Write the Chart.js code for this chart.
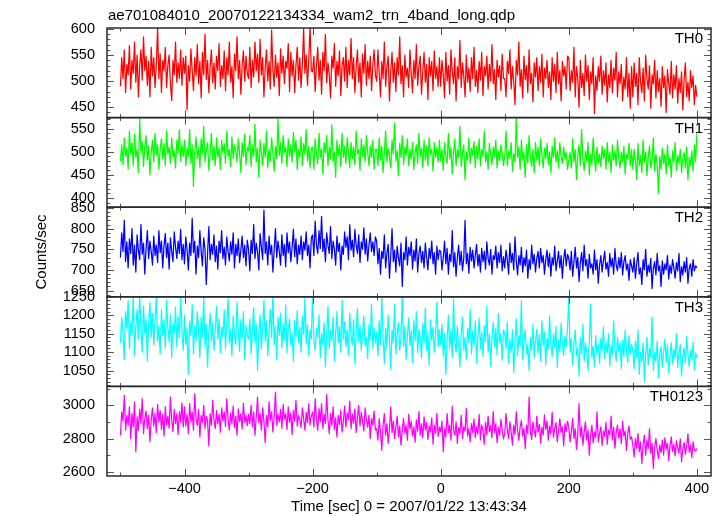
<!DOCTYPE html>
<html><head><meta charset="utf-8">
<script src="https://cdn.jsdelivr.net/npm/chart.js@4.4.1/dist/chart.umd.min.js"></script>
<style>html,body{margin:0;padding:0;background:#fff}canvas{display:block}</style>
</head><body>
<canvas id="c" width="723" height="516"></canvas>
<script>
const TITLE = 'ae701084010_20070122134334_wam2_trn_4band_long.qdp';
const X_LABEL = 'Time [sec] 0 = 2007/01/22 13:43:34';
const Y_LABEL = 'Counts/sec';
const BANDS = ['TH0', 'TH1', 'TH2', 'TH3', 'TH0123'];
const T_START = -500, T_BIN = 2;
const X_TICKS = [-400, -200, 0, 200, 400];

const TH0 = [
490,545,505,560,478,532,512,568,485,540, 515,575,498,550,470,528,560,502,585,520,
548,492,538,470,565,510,545,488,532,603, 505,552,478,540,520,565,488,530,550,495,
463,540,512,575,498,535,505,560,492,545,
515,548,445,530,500,562,520,482,545,510, 570,495,538,468,555,512,590,503,540,478,
528,560,497,535,485,548,520,572,490,530, 505,558,482,545,512,575,498,528,468,552,
520,585,505,540,475,530,558,500,548,515,
505,565,488,540,508,575,520,552,498,580, 512,545,470,525,560,500,538,485,598,522,
490,550,507,535,472,562,515,548,495,538, 525,572,480,555,510,540,478,530,565,502,
545,488,532,600,515,550,492,540,605,520,
518,548,480,530,565,502,540,475,555,520, 590,497,535,512,468,548,525,572,490,538,
510,558,472,530,545,500,565,488,540,512, 582,505,545,478,528,560,498,535,470,552,
515,570,492,538,505,548,482,530,560,512,
500,560,515,470,538,505,575,490,528,548, 462,520,555,498,535,480,545,512,585,495,
530,470,550,508,525,488,560,515,478,540, 505,570,492,528,548,475,518,555,498,532,
465,545,510,538,482,558,505,528,490,545,
490,540,512,468,555,500,530,475,560,518, 495,545,462,528,505,578,488,535,510,470,
550,498,525,480,545,505,565,490,520,478, 538,502,555,472,528,510,548,485,532,500,
570,495,522,465,540,508,530,482,552,505,
505,470,538,515,560,485,528,500,455,540, 512,575,490,522,468,548,503,530,478,560,
495,515,460,535,508,545,482,528,498,552, 470,525,505,540,488,518,465,545,500,532,
478,555,495,520,462,538,510,528,485,548,
545,482,520,498,565,470,528,505,450,540, 488,515,472,550,500,530,465,518,495,545,
438,510,482,528,500,548,475,520,492,535, 460,512,488,540,478,525,502,555,470,518,
495,532,462,508,485,545,470,515,448,528,
470,535,490,515,455,545,498,478,525,462, 550,505,485,530,448,512,495,540,468,520,
480,505,452,528,488,510,440,522,495,475, 538,468,512,485,530,458,505,478,518,445,
502,535,470,498,462,520,488,510,455,492,
470];
const TH1 = [
480,515,472,530,490,508,462,545,495,520, 470,538,488,505,455,572,498,522,468,512,
535,482,512,450,498,525,478,540,492,515, 462,505,528,485,518,470,545,495,510,475,
530,488,502,465,525,498,548,480,515,490,
525,470,508,490,548,475,515,425,500,532, 485,510,465,528,495,555,478,505,520,460,
495,540,482,512,470,530,488,508,462,525, 498,518,475,545,490,505,468,532,485,515,
502,478,528,495,455,520,490,538,472,510,
502,535,468,515,490,560,478,508,445,525, 498,470,518,488,545,465,505,480,530,495,
458,512,485,570,492,520,475,535,498,510, 468,528,490,515,478,542,500,525,462,505,
488,532,470,518,495,548,480,512,465,508,
510,462,528,495,475,540,488,505,452,520, 498,535,470,510,485,558,478,500,445,525,
492,515,468,540,488,512,475,530,498,465, 520,485,510,472,545,495,505,460,528,490,
515,478,535,498,470,512,488,525,462,505,
505,470,530,482,512,455,498,545,478,508, 490,465,525,495,562,480,502,448,518,488,
535,472,510,492,528,470,505,485,520,462, 498,515,475,540,490,508,465,525,482,512,
470,530,495,505,458,520,488,510,478,525,
480,505,460,520,490,475,540,485,510,452, 498,528,470,505,488,555,468,495,515,440,
500,482,530,475,508,492,522,465,512,485, 528,470,505,490,545,478,500,462,518,495,
472,510,488,525,465,502,480,515,495,470,
490,545,470,502,485,520,458,495,478,575, 488,510,462,525,482,498,445,515,475,535,
490,468,505,455,520,482,510,470,528,492, 465,508,485,518,472,500,455,512,488,530,
478,502,465,520,490,475,510,485,498,462,
482,498,465,528,478,505,440,492,515,470, 548,485,460,502,478,520,450,495,472,530,
488,458,510,475,495,468,512,485,505,462, 520,478,498,455,515,482,502,470,525,488,
465,500,478,512,452,495,485,518,470,505,
462,505,480,440,518,470,492,455,525,478, 500,448,488,512,465,482,530,458,495,472,
410,490,462,508,475,495,452,515,470,488, 445,502,478,520,460,492,475,505,455,485,
498,465,510,440,488,470,502,458,515,478,
540];
const TH2 = [
730,790,745,820,720,768,705,775,740,800, 712,760,695,785,748,725,810,738,765,690,
752,795,728,770,745,712,782,735,760,718, 795,742,770,705,758,788,730,765,702,778,
745,720,792,755,728,770,740,798,725,762,
715,780,748,700,765,735,825,742,770,690, 758,730,795,745,710,778,752,665,740,805,
725,762,738,785,720,758,702,770,742,795, 728,755,712,780,745,722,768,738,790,705,
762,735,775,718,748,782,730,760,710,772,
750,698,772,740,810,728,765,745,700,788, 755,725,845,740,768,712,782,738,760,695,
748,800,730,770,745,712,785,735,762,708, 790,742,768,720,755,798,732,775,715,760,
738,782,725,768,748,792,735,760,705,778,
785,735,818,760,740,795,752,830,745,775, 720,790,760,740,805,728,770,750,712,782,
745,765,700,758,738,792,755,780,725,810, 748,772,732,798,760,740,785,718,768,750,
802,738,775,722,760,790,745,768,735,780,
770,715,752,690,745,728,785,705,740,762, 680,735,800,720,748,695,758,730,710,765,
660,742,725,780,712,755,735,768,702,748, 722,775,695,740,758,718,745,705,765,730,
700,752,728,770,715,742,690,758,725,748,
745,700,730,770,715,752,690,738,720,795, 708,742,685,730,760,712,745,698,728,820,
715,740,692,755,722,748,705,735,762,710, 738,695,752,720,745,702,768,728,712,750,
690,735,725,758,705,742,718,760,698,732,
705,748,725,690,765,718,740,700,780,722, 688,735,712,755,695,730,710,748,680,725,
702,760,715,738,695,728,745,705,752,718, 735,690,725,748,708,740,685,730,712,758,
698,722,745,705,735,680,728,750,710,738,
728,700,745,685,720,755,705,730,672,718, 742,698,760,710,725,680,738,705,715,690,
748,700,725,668,712,735,695,722,745,702, 718,685,740,708,728,690,752,712,698,730,
705,742,688,720,735,700,715,675,725,710,
695,730,680,715,742,690,705,665,725,700, 750,685,712,695,728,655,705,720,688,740,
698,710,660,722,690,715,700,735,678,712, 692,725,705,680,718,698,740,672,708,688,
720,695,730,668,705,715,685,725,698,710,
705];
const TH3 = [
1125,1195,1150,1080,1210,1165,1240,1110,1180,1145, 1255,1090,1170,1215,1135,1260,1160,1100,1225,1150,
1190,1075,1175,1235,1140,1205,1120,1185,1250,1130, 1170,1095,1215,1145,1188,1110,1240,1165,1128,1200,
1085,1178,1150,1222,1115,1195,1138,1258,1160,1105,
1200,1120,1165,1040,1185,1145,1230,1095,1170,1130, 1210,1160,1085,1195,1140,1250,1115,1175,1060,1150,
1205,1130,1180,1105,1160,1225,1135,1190,1098,1168, 1140,1215,1110,1178,1245,1125,1162,1090,1198,1148,
1120,1235,1155,1102,1188,1138,1210,1080,1172,1145,
1135,1190,1095,1160,1220,1125,1175,1050,1150,1200, 1110,1165,1240,1130,1185,1090,1155,1215,1140,1260,
1120,1170,1080,1195,1145,1205,1112,1178,1132,1228, 1098,1162,1190,1118,1150,1075,1185,1140,1212,1125,
1168,1100,1198,1148,1245,1122,1175,1092,1160,1135,
1260,1130,1105,1165,1140,1200,1085,1150,1120,1180, 1060,1145,1225,1110,1160,1130,1195,1075,1150,1210,
1125,1170,1100,1240,1135,1182,1115,1160,1092,1205, 1145,1120,1188,1068,1155,1218,1128,1172,1105,1150,
1198,1118,1140,1082,1175,1135,1230,1110,1165,1125,
1155,1090,1185,1120,1250,1140,1070,1165,1110,1200, 1135,1055,1160,1125,1230,1095,1150,1180,1105,1140,
1260,1115,1170,1080,1145,1192,1118,1158,1072,1185, 1130,1210,1098,1162,1140,1085,1178,1125,1220,1105,
1150,1065,1188,1132,1168,1100,1145,1235,1115,1160,
1120,1175,1090,1150,1040,1135,1200,1110,1160,1085, 1245,1130,1100,1170,1120,1060,1150,1195,1105,1140,
1080,1165,1125,1215,1095,1158,1118,1185,1070,1142, 1192,1108,1155,1088,1172,1128,1225,1100,1148,1062,
1138,1180,1115,1165,1092,1205,1125,1150,1078,1160,
1150,1110,1180,1070,1135,1100,1160,1045,1125,1190, 1090,1145,1115,1240,1080,1130,1160,1095,1120,1050,
1140,1105,1175,1085,1130,1162,1098,1148,1075,1185, 1118,1155,1065,1138,1108,1198,1125,1088,1150,1112,
1170,1058,1132,1102,1178,1120,1090,1145,1115,1165,
1255,1100,1135,1065,1120,1160,1090,1110,1035,1140, 1095,1175,1075,1125,1100,1050,1130,1230,1085,1115,
1060,1145,1095,1120,1070,1138,1105,1168,1082,1128, 1098,1150,1062,1118,1092,1185,1110,1075,1140,1102,
1125,1055,1132,1088,1160,1108,1072,1145,1095,1120,
1105,1055,1130,1085,1160,1040,1100,1075,1125,1020, 1095,1140,1065,1110,1085,1195,1050,1100,1075,1130,
1030,1090,1115,1060,1100,1135,1072,1118,1045,1092, 1125,1068,1108,1082,1150,1058,1098,1120,1035,1088,
1112,1070,1142,1095,1062,1105,1078,1128,1052,1098,
1085];
const TH0123 = [
2820,2960,2905,3060,2850,2940,2880,2990,2800,2950, 2870,3020,2720,2930,2850,2975,2890,3040,2830,2920,
2965,2860,2940,2780,2910,2985,2875,2950,2835,3005, 2900,2968,2855,2945,2815,2992,2880,2935,2862,3050,
2910,2842,2975,2890,2948,2825,2960,2898,3015,2870,
2990,2875,2945,2830,3010,2900,2960,2850,3070,2920, 2880,2975,2810,2940,2895,3000,2860,2935,2905,2755,
2950,2880,3030,2915,2860,2968,2890,2945,2838,2985, 2905,2960,2872,3040,2918,2852,2955,2888,2995,2865,
2935,2820,2978,2902,2950,2858,3012,2895,2940,2878,
2945,2890,3000,2870,2960,2820,2930,3050,2895,2950, 2850,2985,2905,2775,2940,2870,3020,2910,2960,2840,
2930,3080,2880,2945,2900,2975,2862,3005,2915,2948, 2855,2990,2898,2955,2825,2970,2905,3030,2875,2940,
2912,2865,2985,2920,2850,2958,2895,3010,2880,2935,
2960,2870,3040,2920,2850,2980,2900,3010,2860,2945, 2890,3065,2910,2830,2950,2880,2990,2855,2925,2810,
2940,2885,2970,2840,2905,2995,2870,2955,2915,3025, 2860,2948,2892,2978,2835,2930,3000,2875,2958,2902,
2845,2985,2910,2868,2940,2800,2920,2880,2965,2850,
2860,2790,2920,2840,2730,2880,2950,2820,2890,2770, 2860,2990,2835,2905,2800,2870,2935,2810,2875,2760,
2850,2920,2830,2880,2790,2945,2858,2905,2815,2870, 2778,2912,2845,2962,2820,2888,2805,2930,2852,2895,
2795,2875,2838,2925,2765,2880,2832,2952,2812,2868,
2840,2905,2720,2860,2810,2950,2835,2880,2790,2995, 2850,2820,2900,2770,2865,2830,2940,2800,2870,2845,
2980,2815,2860,2780,2890,2835,2918,2805,2872,2828, 2945,2792,2880,2850,2765,2898,2822,2935,2842,2878,
2805,2962,2835,2888,2775,2868,2820,2915,2850,2798,
2830,2950,2855,2800,2900,2840,2760,2880,2825,2960, 2850,2790,2870,2910,2815,2860,2740,2880,2830,3050,
2845,2795,2900,2850,2810,2935,2838,2885,2772,2868, 2822,2942,2855,2905,2790,2875,2828,2958,2808,2862,
2895,2780,2848,2918,2835,2870,2755,2890,2842,2905,
2870,2780,2840,2920,2800,2860,2735,2830,3010,2810, 2870,2760,2840,2900,2790,2850,2700,2820,2880,2775,
2840,2805,2960,2780,2830,2870,2758,2845,2812,2898, 2765,2852,2822,2935,2790,2868,2742,2835,2880,2802,
2858,2770,2905,2815,2845,2728,2830,2875,2795,2810,
2760,2690,2800,2740,2830,2720,2780,2650,2760,2820, 2700,2790,2740,2860,2710,2770,2620,2750,2800,2730,
2680,2760,2715,2790,2700,2805,2735,2772,2668,2755, 2810,2722,2765,2695,2785,2745,2712,2798,2660,2740,
2775,2705,2752,2828,2718,2762,2685,2780,2730,2725,
2740];

const SERIES = [TH0, TH1, TH2, TH3, TH0123];
const Y_TICKS = [
  [450, 500, 550, 600],
  [400, 450, 500, 550],
  [650, 700, 750, 800, 850],
  [1050, 1100, 1150, 1200, 1250],
  [2600, 2800, 3000]
];

// styling / layout
const COLORS = ['#ff0000', '#00ff00', '#0000ff', '#00ffff', '#ff00ff'];
const Y_RANGES = [[430, 602], [380, 574], [635, 852], [1007, 1250], [2574, 3114]];
const Y_MINOR = [10, 10, 10, 10, 100];
const X_RANGE = [-521, 422];
const FONT = '"Liberation Sans", Arial, Helvetica, sans-serif';

const fmt = v => (v < 0 ? '\u2212' + Math.abs(v) : String(v));

const scales = {
  x: {
    type: 'linear', position: 'bottom', min: X_RANGE[0], max: X_RANGE[1],
    afterBuildTicks: s => { s.ticks = X_TICKS.map(v => ({ value: v })); },
    afterFit: s => { s.height = 40; },
    grid: { display: false, drawTicks: false },
    border: { display: false },
    ticks: { padding: 4, color: '#000', autoSkip: false, maxRotation: 0,
      font: { family: FONT, size: 14.5 }, callback: v => fmt(v) }
  }
};
for (let i = SERIES.length - 1; i >= 0; i--) {
  scales['y' + i] = {
    type: 'linear', position: 'left', stack: 'panels', stackWeight: 1,
    min: Y_RANGES[i][0], max: Y_RANGES[i][1],
    afterBuildTicks: s => { s.ticks = Y_TICKS[i].map(v => ({ value: v })); },
    afterFit: s => { s.width = 60; },
    grid: { display: false, drawTicks: false },
    border: { display: false },
    ticks: { padding: 12, color: '#000', autoSkip: false,
      font: { family: FONT, size: 14.5 }, callback: v => fmt(v) }
  };
}

const datasets = SERIES.map((vals, i) => ({
  label: BANDS[i],
  data: vals.map((y, k) => ({ x: T_START + k * T_BIN, y })),
  yAxisID: 'y' + i,
  borderColor: COLORS[i],
  borderWidth: 1.25,
  borderJoinStyle: 'round',
  pointRadius: 0,
  fill: false,
  tension: 0
}));

const framePlugin = {
  id: 'qdpFrame',
  beforeDatasetDraw(chart, args) {
    const meta = args.meta, a = chart.chartArea, ys = meta.yScale;
    chart.ctx.save();
    chart.ctx.beginPath();
    chart.ctx.rect(a.left, ys.top, a.right - a.left, ys.bottom - ys.top);
    chart.ctx.clip();
  },
  afterDatasetDraw(chart) { chart.ctx.restore(); },
  afterDraw(chart) {
    const { ctx, chartArea: a, scales: sc } = chart;
    const xs = sc.x;
    ctx.save();
    SERIES.forEach((_, i) => {
      const s = sc['y' + i];
      ctx.strokeStyle = '#555';
      ctx.lineWidth = 1;
      ctx.beginPath();
      const step = Y_MINOR[i];
      for (let v = Math.ceil(s.min / step) * step; v <= s.max; v += step) {
        const py = Math.round(s.getPixelForValue(v)) + 0.5;
        const L = Y_TICKS[i].includes(v) ? 7 : 3.5;
        ctx.moveTo(a.left, py); ctx.lineTo(a.left + L, py);
        ctx.moveTo(a.right, py); ctx.lineTo(a.right - L, py);
      }
      for (let v = -500; v <= 400; v += 100) {
        const px = Math.round(xs.getPixelForValue(v)) + 0.5;
        const L = X_TICKS.includes(v) ? 7 : 3.5;
        ctx.moveTo(px, s.top); ctx.lineTo(px, s.top + L);
        ctx.moveTo(px, s.bottom); ctx.lineTo(px, s.bottom - L);
      }
      ctx.stroke();
      ctx.strokeStyle = '#2a2a2a';
      ctx.lineWidth = 1.5;
      ctx.strokeRect(a.left, s.top, a.right - a.left, s.bottom - s.top);
      ctx.fillStyle = '#000';
      ctx.font = '15px ' + FONT;
      ctx.textAlign = 'right';
      ctx.textBaseline = 'alphabetic';
      ctx.fillText(BANDS[i], a.right - 8, s.top + 15);
    });
    ctx.fillStyle = '#000';
    ctx.font = '15px ' + FONT;
    ctx.textAlign = 'left';
    ctx.textBaseline = 'alphabetic';
    ctx.fillText(TITLE, a.left + 1, 20);
    ctx.textAlign = 'center';
    ctx.fillText(X_LABEL, (a.left + a.right) / 2, 510.5);
    ctx.translate(46, (a.top + a.bottom) / 2);
    ctx.rotate(-Math.PI / 2);
    ctx.textBaseline = 'alphabetic';
    ctx.fillText(Y_LABEL, 0, 0);
    ctx.restore();
  }
};

new Chart(document.getElementById('c'), {
  type: 'line',
  data: { datasets },
  options: {
    responsive: false,
    maintainAspectRatio: false,
    animation: false,
    devicePixelRatio: 1,
    events: [],
    parsing: true,
    layout: { padding: { left: 47, right: 12, top: 28, bottom: 0 } },
    plugins: { legend: { display: false }, tooltip: { enabled: false }, title: { display: false } },
    scales
  },
  plugins: [framePlugin]
});
</script>
</body></html>
